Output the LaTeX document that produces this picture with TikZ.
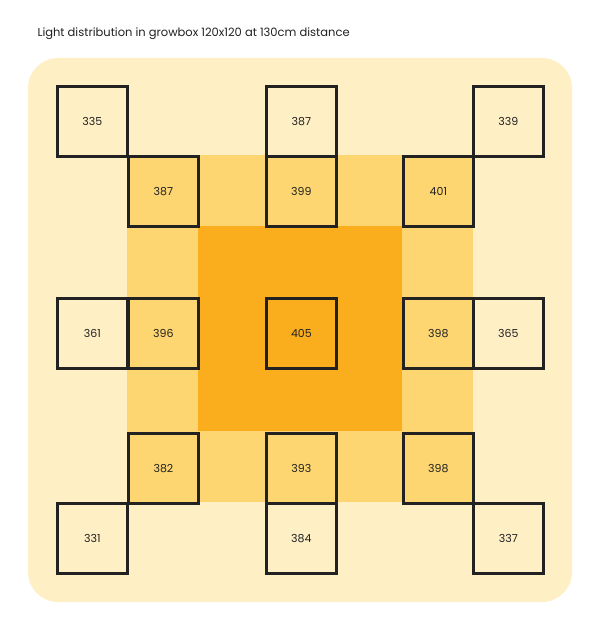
\documentclass[tikz,border=0pt]{standalone}
\usepackage{fontspec}
\setmainfont{Poppins}
\definecolor{bgc}{HTML}{FEEFC5}
\definecolor{midc}{HTML}{FDD671}
\definecolor{hotc}{HTML}{FBAE1D}
\definecolor{inkc}{HTML}{222222}
\begin{document}
\begin{tikzpicture}[x=1pt,y=-1pt,
  cell/.style={draw=inkc,line width=2.8pt,minimum size=70pt,inner sep=0pt,font=\fontsize{11}{13}\selectfont,text=inkc,anchor=north west}]
\useasboundingbox (0,0) rectangle (600,631);
\fill[white] (0,0) rectangle (600,631);
\fill[bgc,rounded corners=30pt] (28,58) rectangle (572,602);
\fill[midc] (127,155) rectangle (473,502);
\fill[hotc] (198,226) rectangle (402,431);
\node[anchor=west,font=\fontsize{11.5}{13}\selectfont,text=inkc] (title) at (34,34) {Light distribution in growbox 120x120 at 130cm distance};
% outer row 1
\node[cell] (a1) at (56,85) {335};
\node[cell] (a2) at (265,85) {387};
\node[cell] (a3) at (472,85) {339};
\node[cell] (b1) at (127,155) {387};
\node[cell] (b2) at (265,155) {399};
\node[cell] (b3) at (402,155) {401};
\node[cell] (c0) at (56,297) {361};
\node[cell] (c1) at (127,297) {396};
\node[cell] (c2) at (265,297) {405};
\node[cell] (c3) at (402,297) {398};
\node[cell] (c4) at (472,297) {365};
\node[cell] (d1) at (127,432) {382};
\node[cell] (d2) at (265,432) {393};
\node[cell] (d3) at (402,432) {398};
\node[cell] (e1) at (56,502) {331};
\node[cell] (e2) at (265,502) {384};
\node[cell] (e3) at (472,502) {337};
\end{tikzpicture}
\end{document}
